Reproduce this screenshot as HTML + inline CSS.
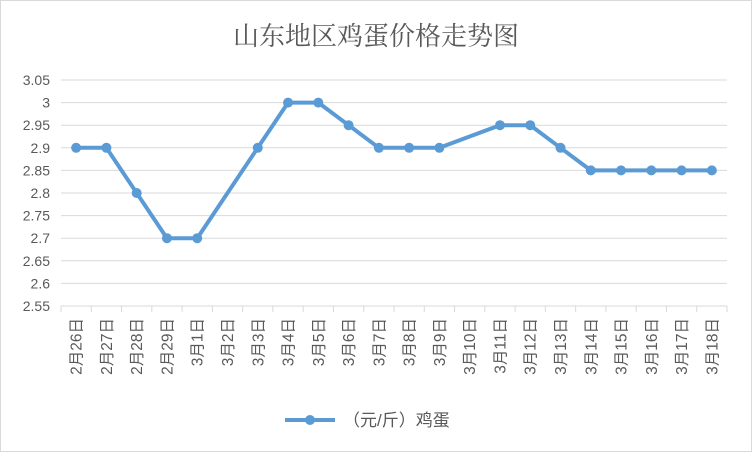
<!DOCTYPE html>
<html><head><meta charset="utf-8"><style>
body{margin:0;background:#fff}
svg{display:block;font-family:"Liberation Sans","Noto Sans CJK SC",sans-serif}
</style></head><body>
<svg id="c" width="752" height="452">
<rect x="0.5" y="0.5" width="751" height="451" fill="#fff" stroke="#d9d9d9"/>
<text x="376" y="45" text-anchor="middle" font-size="26" fill="#595959" style="font-family:'Liberation Serif','Noto Serif CJK SC',serif">山东地区鸡蛋价格走势图</text>
<g id="grid"></g><g id="axes"></g><g id="series"></g>
<g>
<line x1="285" y1="420" x2="335" y2="420" stroke="#5b9bd5" stroke-width="4"/>
<circle cx="310" cy="420" r="5" fill="#5b9bd5"/>
<text x="343" y="426" font-size="17" fill="#595959">（元/斤）鸡蛋</text>
</g>
</svg>
<script>
const categories=["2月26日","2月27日","2月28日","2月29日","3月1日","3月2日","3月3日","3月4日","3月5日","3月6日","3月7日","3月8日","3月9日","3月10日","3月11日","3月12日","3月13日","3月14日","3月15日","3月16日","3月17日","3月18日"];
const values=[2.9,2.9,2.8,2.7,2.7,null,2.9,3,3,2.95,2.9,2.9,2.9,null,2.95,2.95,2.9,2.85,2.85,2.85,2.85,2.85];
const yTicks=[2.55,2.6,2.65,2.7,2.75,2.8,2.85,2.9,2.95,3,3.05];
const NS="http://www.w3.org/2000/svg";
const x0=61,x1=727,yTop=80,yBot=306,yMin=2.55,yMax=3.05;
const step=(x1-x0)/categories.length;
const X=i=>x0+step*(i+0.5);
const Y=v=>yBot-(v-yMin)/(yMax-yMin)*(yBot-yTop);
function mk(t,a,p){const e=document.createElementNS(NS,t);for(const k in a)e.setAttribute(k,a[k]);p.appendChild(e);return e;}
const grid=document.getElementById('grid'),axes=document.getElementById('axes'),ser=document.getElementById('series');
yTicks.forEach(v=>{
 const l=mk('line',{x1:x0,x2:x1,y1:Y(v),y2:Y(v),stroke:'#d9d9d9','stroke-width':1},grid);
 
 
 const t=mk('text',{x:50,y:Y(v)+5,'text-anchor':'end','font-size':14,fill:'#595959'},axes);
 t.textContent=String(v);
 
 
});
for(let i=0;i<=categories.length;i++){
 const xx=x0+step*i;
 const tk=mk('line',{x1:xx,x2:xx,y1:yBot,y2:yBot+6,stroke:'#d9d9d9'},axes);
 
 
}
categories.forEach((c,i)=>{
 const t=mk('text',{transform:`translate(${X(i)+5.5},318) rotate(-90)`,'text-anchor':'end','font-size':15.5,fill:'#595959'},axes);
 t.textContent=c;
 
 
});
const pts=[];values.forEach((v,i)=>{if(v!=null)pts.push([X(i),Y(v)]);});
const pl=mk('polyline',{points:pts.map(p=>p.join(',')).join(' '),fill:'none',stroke:'#5b9bd5','stroke-width':4,'stroke-linejoin':'round'},ser);


values.forEach((v,i)=>{if(v==null)return;
 const c=mk('circle',{cx:X(i),cy:Y(v),r:5,fill:'#5b9bd5'},ser);
 
 
});
</script>
</body></html>
